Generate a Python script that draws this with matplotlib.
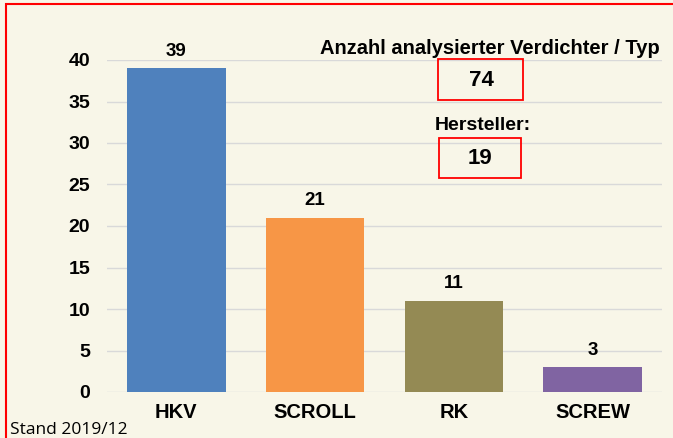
import matplotlib.pyplot as plt
from matplotlib.patches import Rectangle

categories = ['HKV', 'SCROLL', 'RK', 'SCREW']
counts = [39, 21, 11, 3]
colors = ['#4F81BD', '#F79646', '#948A54', '#8064A2']
yticks = [0, 5, 10, 15, 20, 25, 30, 35, 40]
total_label = '74'
maker_label = '19'

plt.rcParams['font.family'] = ['Liberation Sans', 'DejaVu Sans']

fig = plt.figure(figsize=(6.73, 4.38), dpi=100)
fig.patch.set_facecolor('#F8F6E8')
ax = fig.add_axes([107 / 673, 1 - 392 / 438, 555 / 673, 332 / 438])
ax.set_facecolor('none')

x = range(len(categories))
bars = ax.bar(x, counts, width=0.71, color=colors, zorder=3)
for b, v in zip(bars, counts):
    ax.annotate(str(v), (b.get_x() + b.get_width() / 2, v),
                xytext=(0, 6), textcoords='offset points',
                ha='center', va='bottom', fontsize=13.5, fontweight='bold')

ax.set_xlim(-0.5, 3.5)
ax.set_ylim(0, 40)
ax.set_yticks(yticks)
ax.set_xticks(list(x))
ax.set_xticklabels(categories, fontsize=14.5, fontweight='bold')
for lbl in ax.get_yticklabels():
    lbl.set_fontsize(14)
    lbl.set_fontweight('bold')
ax.tick_params(axis='y', length=0, pad=12)
ax.tick_params(axis='x', length=0, pad=8)
ax.grid(axis='y', color='#D9D9D9', linewidth=1, zorder=0)
for s in ax.spines.values():
    s.set_visible(False)

# info boxes
fig.text(490 / 673, 1 - 48 / 438, 'Anzahl analysierter Verdichter / Typ',
         ha='center', va='center', fontsize=14.5, fontweight='bold')
fig.patches.append(Rectangle((438 / 673, 1 - 100 / 438), 85 / 673, 41 / 438,
                             transform=fig.transFigure, fill=False,
                             edgecolor='#FF0000', linewidth=1.3))
fig.text(481 / 673, 1 - 80 / 438, total_label, ha='center', va='center',
         fontsize=16, fontweight='bold')
fig.text(483 / 673, 1 - 125 / 438, 'Hersteller:', ha='center', va='center',
         fontsize=14, fontweight='bold')
fig.patches.append(Rectangle((439 / 673, 1 - 178 / 438), 82 / 673, 40 / 438,
                             transform=fig.transFigure, fill=False,
                             edgecolor='#FF0000', linewidth=1.3))
fig.text(480 / 673, 1 - 158 / 438, maker_label, ha='center', va='center',
         fontsize=16, fontweight='bold')

fig.text(10 / 673, 1 - 430 / 438, 'Stand 2019/12', ha='left', va='center',
         fontsize=12.5, family=['Open Sans', 'DejaVu Sans'])

# red frame around slide area
fig.patches.append(Rectangle((6 / 673, -0.1), 1.1, 1 - 4 / 438 + 0.1,
                             transform=fig.transFigure, fill=False,
                             edgecolor='#FF0000', linewidth=1.5))

fig.savefig('out.png', dpi=100, facecolor=fig.get_facecolor())
